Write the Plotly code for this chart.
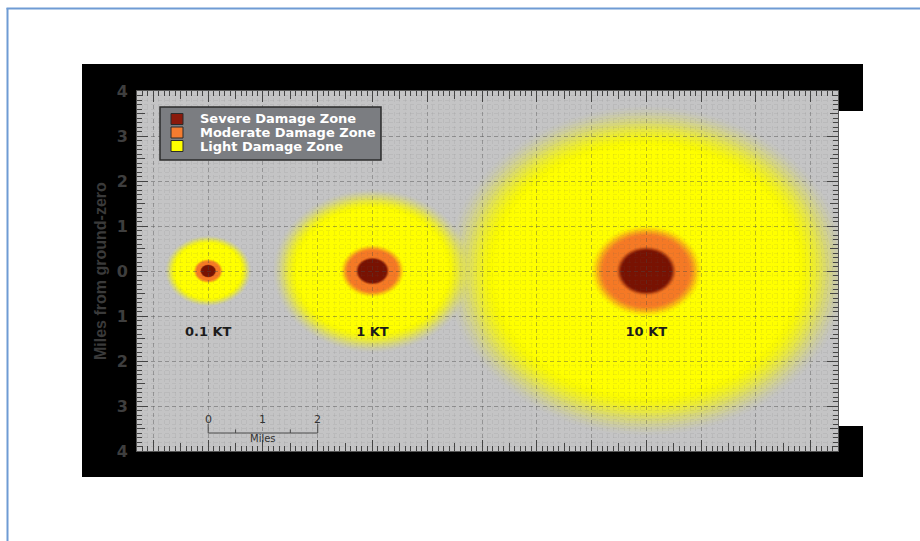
import plotly.graph_objects as go

# ---------------- data ----------------
yields = ["0.1 KT", "1 KT", "10 KT"]
center_x = [0, 3, 8]                 # miles along the strip
severe_r = [0.135, 0.28, 0.50]       # miles
moderate_r = [0.24, 0.52, 0.90]      # miles
light_r = [0.70, 1.60, 3.22]         # miles
zone_names = ["Severe Damage Zone", "Moderate Damage Zone", "Light Damage Zone"]
y_tickvals = [-4, -3, -2, -1, 0, 1, 2, 3, 4]
y_ticktext = ["4", "3", "2", "1", "0", "1", "2", "3", "4"]
scale_ticks = [0, 1, 2]
scale_labels = ["0", "1", "2"]

# ---------------- style ----------------
SEVERE_C = (122, 20, 6)
MODERATE_C = (246, 125, 40)
LIGHT_C = (255, 255, 0)
ZONE_STYLE = [  # (radii, colour, blur fraction, ring count)
    (light_r, LIGHT_C, 0.15, 16),
    (moderate_r, MODERATE_C, 0.15, 8),
    (severe_r, SEVERE_C, 0.12, 8),
]
LEGEND_COLORS = ["#8a1a0c", "#f47c30", "#ffff00"]
LABEL_Y = -1.38
X_RANGE = [-1.3, 11.5]
Y_RANGE = [-4, 4]

W, H = 920, 541
ML, MR, MT, MB = 137, 82, 91, 90
PW, PH = W - ML - MR, H - MT - MB


def px(xp):
    return (xp - ML) / PW


def py(yp):
    return (H - MB - yp) / PH


def smooth(t):
    t = min(max(t, 0.0), 1.0)
    return t * t * (3 - 2 * t)


def glow(cx, r, rgb, frac, k):
    """Soft-edged disc made of stacked translucent circles."""
    r_in, r_out = r * (1 - frac), r * (1 + frac)
    out = []
    col = "rgb(%d,%d,%d)" % rgb
    out.append(dict(type="circle", xref="x", yref="y", layer="below",
                    x0=cx - r_in, x1=cx + r_in, y0=-r_in, y1=r_in,
                    fillcolor=col, line=dict(width=0)))
    cov = [1 - smooth((j - 0.5) / k) for j in range(1, k + 1)]
    alphas = [0.0] * k
    alphas[k - 1] = cov[k - 1]
    for j in range(k - 2, -1, -1):
        alphas[j] = 1 - (1 - cov[j]) / (1 - cov[j + 1])
    for j in range(k):
        rj = r_in + (r_out - r_in) * (j + 1) / k
        out.append(dict(type="circle", xref="x", yref="y", layer="below",
                        x0=cx - rj, x1=cx + rj, y0=-rj, y1=rj,
                        fillcolor="rgba(%d,%d,%d,%.4f)" % (rgb + (alphas[j],)),
                        line=dict(width=0)))
    return out


shapes = []
# outer blue border
shapes.append(dict(type="line", xref="paper", yref="paper", layer="below",
                   x0=px(7.5), x1=px(7.5), y0=py(8), y1=py(H + 2),
                   line=dict(color="#6f9bd4", width=2)))
shapes.append(dict(type="line", xref="paper", yref="paper", layer="below",
                   x0=px(6.5), x1=px(W + 2), y0=py(8.5), y1=py(8.5),
                   line=dict(color="#6f9bd4", width=2)))
# black frame
shapes.append(dict(type="rect", xref="paper", yref="paper", layer="below",
                   x0=px(82), x1=px(ML + PW), y0=py(64), y1=py(477),
                   fillcolor="black", line=dict(width=0)))
shapes.append(dict(type="rect", xref="paper", yref="paper", layer="below",
                   x0=px(ML + PW - 1), x1=px(863), y0=py(64), y1=py(111),
                   fillcolor="black", line=dict(width=0)))
shapes.append(dict(type="rect", xref="paper", yref="paper", layer="below",
                   x0=px(ML + PW - 1), x1=px(863), y0=py(426), y1=py(477),
                   fillcolor="black", line=dict(width=0)))
# gray plotting field
shapes.append(dict(type="rect", xref="paper", yref="paper", layer="below",
                   x0=0, x1=1, y0=0, y1=1,
                   fillcolor="#c4c4c5", line=dict(width=0)))

# damage zones: all light first, then moderate, then severe
for radii, rgb, frac, k in ZONE_STYLE:
    for cx, r in zip(center_x, radii):
        shapes += glow(cx, r, rgb, frac, k)

# scale bar (data coordinates)
SB_Y, SB_TOP, SB_SMALL = -3.6, -3.4, -3.52
SB_COL = "#4a4a4a"
shapes.append(dict(type="line", xref="x", yref="y", x0=scale_ticks[0], x1=scale_ticks[-1],
                   y0=SB_Y, y1=SB_Y, line=dict(color=SB_COL, width=1)))
for v in (scale_ticks[0], scale_ticks[-1]):
    shapes.append(dict(type="line", xref="x", yref="y", x0=v, x1=v,
                       y0=SB_Y, y1=SB_TOP, line=dict(color=SB_COL, width=1)))
for a, b in zip(scale_ticks[:-1], scale_ticks[1:]):
    m = (a + b) / 2
    shapes.append(dict(type="line", xref="x", yref="y", x0=m, x1=m,
                       y0=SB_Y, y1=SB_SMALL, line=dict(color=SB_COL, width=1)))

# legend box
shapes.append(dict(type="rect", xref="paper", yref="paper", layer="above",
                   x0=px(160), x1=px(381), y0=py(107), y1=py(160),
                   fillcolor="#7b7d81", line=dict(color="#2b2b2b", width=1.5)))
leg_y = [119, 132.5, 146]
for yy, c in zip(leg_y, LEGEND_COLORS):
    shapes.append(dict(type="rect", xref="paper", yref="paper", layer="above",
                       x0=px(171), x1=px(183), y0=py(yy + 5.5), y1=py(yy - 5.5),
                       fillcolor=c, line=dict(color="#2b2b2b", width=1)))

annotations = []
for yy, name in zip(leg_y, zone_names):
    annotations.append(dict(xref="paper", yref="paper", x=px(198), y=py(yy),
                            xanchor="left", yanchor="middle", showarrow=False,
                            text="<b>%s</b>" % name,
                            font=dict(family="DejaVu Sans", size=13, color="white")))
for v, lab in zip(scale_ticks, scale_labels):
    annotations.append(dict(xref="x", yref="y", x=v, y=-3.29, showarrow=False,
                            text=lab, xanchor="center", yanchor="middle",
                            font=dict(family="DejaVu Sans", size=11, color="#333333")))
annotations.append(dict(xref="x", yref="y", x=(scale_ticks[0] + scale_ticks[-1]) / 2, y=-3.73,
                        showarrow=False, text="Miles", xanchor="center", yanchor="middle",
                        font=dict(family="DejaVu Sans", size=10, color="#333333")))
annotations.append(dict(xref="paper", yref="paper", x=px(100), y=0.5, showarrow=False,
                        text="<b>Miles from ground-zero</b>", textangle=-90,
                        xanchor="center", yanchor="middle",
                        font=dict(family="Liberation Sans", size=16, color="#3a3a3a")))

fig = go.Figure()
fig.add_trace(go.Scatter(
    x=center_x, y=[LABEL_Y] * len(center_x), mode="text",
    text=["<b>%s</b>" % t for t in yields],
    textfont=dict(family="DejaVu Sans", size=13, color="#1c1c1c"),
    hoverinfo="skip", showlegend=False))
# helper trace so the half-mile tick axes are drawn
fig.add_trace(go.Scatter(x=[0], y=[0], xaxis="x2", yaxis="y2", mode="markers",
                         marker=dict(opacity=0), hoverinfo="skip", showlegend=False))

TICK_C = "#444444"
common = dict(showline=True, linecolor="#555555", linewidth=1, mirror="ticks",
              ticks="inside", ticklen=11, tickcolor=TICK_C, tickwidth=1,
              showgrid=True, gridcolor="rgba(70,70,70,0.38)", gridwidth=1,
              griddash="4px,3px", zeroline=False, fixedrange=True,
              minor=dict(dtick=0.1, tick0=0, ticks="inside", ticklen=5,
                         tickcolor=TICK_C, tickwidth=1, showgrid=True,
                         gridcolor="rgba(90,90,90,0.09)", gridwidth=1))
fig.update_layout(
    width=W, height=H, margin=dict(l=ML, r=MR, t=MT, b=MB),
    paper_bgcolor="white", plot_bgcolor="rgba(0,0,0,0)",
    showlegend=False, shapes=shapes, annotations=annotations,
    xaxis=dict(range=X_RANGE, dtick=1, tick0=0, showticklabels=False, **common),
    yaxis=dict(range=Y_RANGE, tickvals=y_tickvals, ticktext=y_ticktext,
               showticklabels=True, ticklabelstandoff=5,
               tickfont=dict(family="DejaVu Sans", size=16, color="#3e3e3e", weight="bold"),
               **common),
    xaxis2=dict(range=X_RANGE, overlaying="x", anchor="y2", side="bottom",
                ticks="inside", ticklen=8, tickcolor=TICK_C, tick0=0.5, dtick=1,
                showticklabels=False, showgrid=False, zeroline=False,
                showline=False, mirror="ticks", fixedrange=True),
    yaxis2=dict(range=Y_RANGE, overlaying="y", anchor="x2", side="left",
                ticks="inside", ticklen=8, tickcolor=TICK_C, tick0=0.5, dtick=1,
                showticklabels=False, showgrid=False, zeroline=False,
                showline=False, mirror="ticks", fixedrange=True),
)

fig.write_html("out.html", config={"displayModeBar": False},
               post_script="document.body.style.margin='0px';")
